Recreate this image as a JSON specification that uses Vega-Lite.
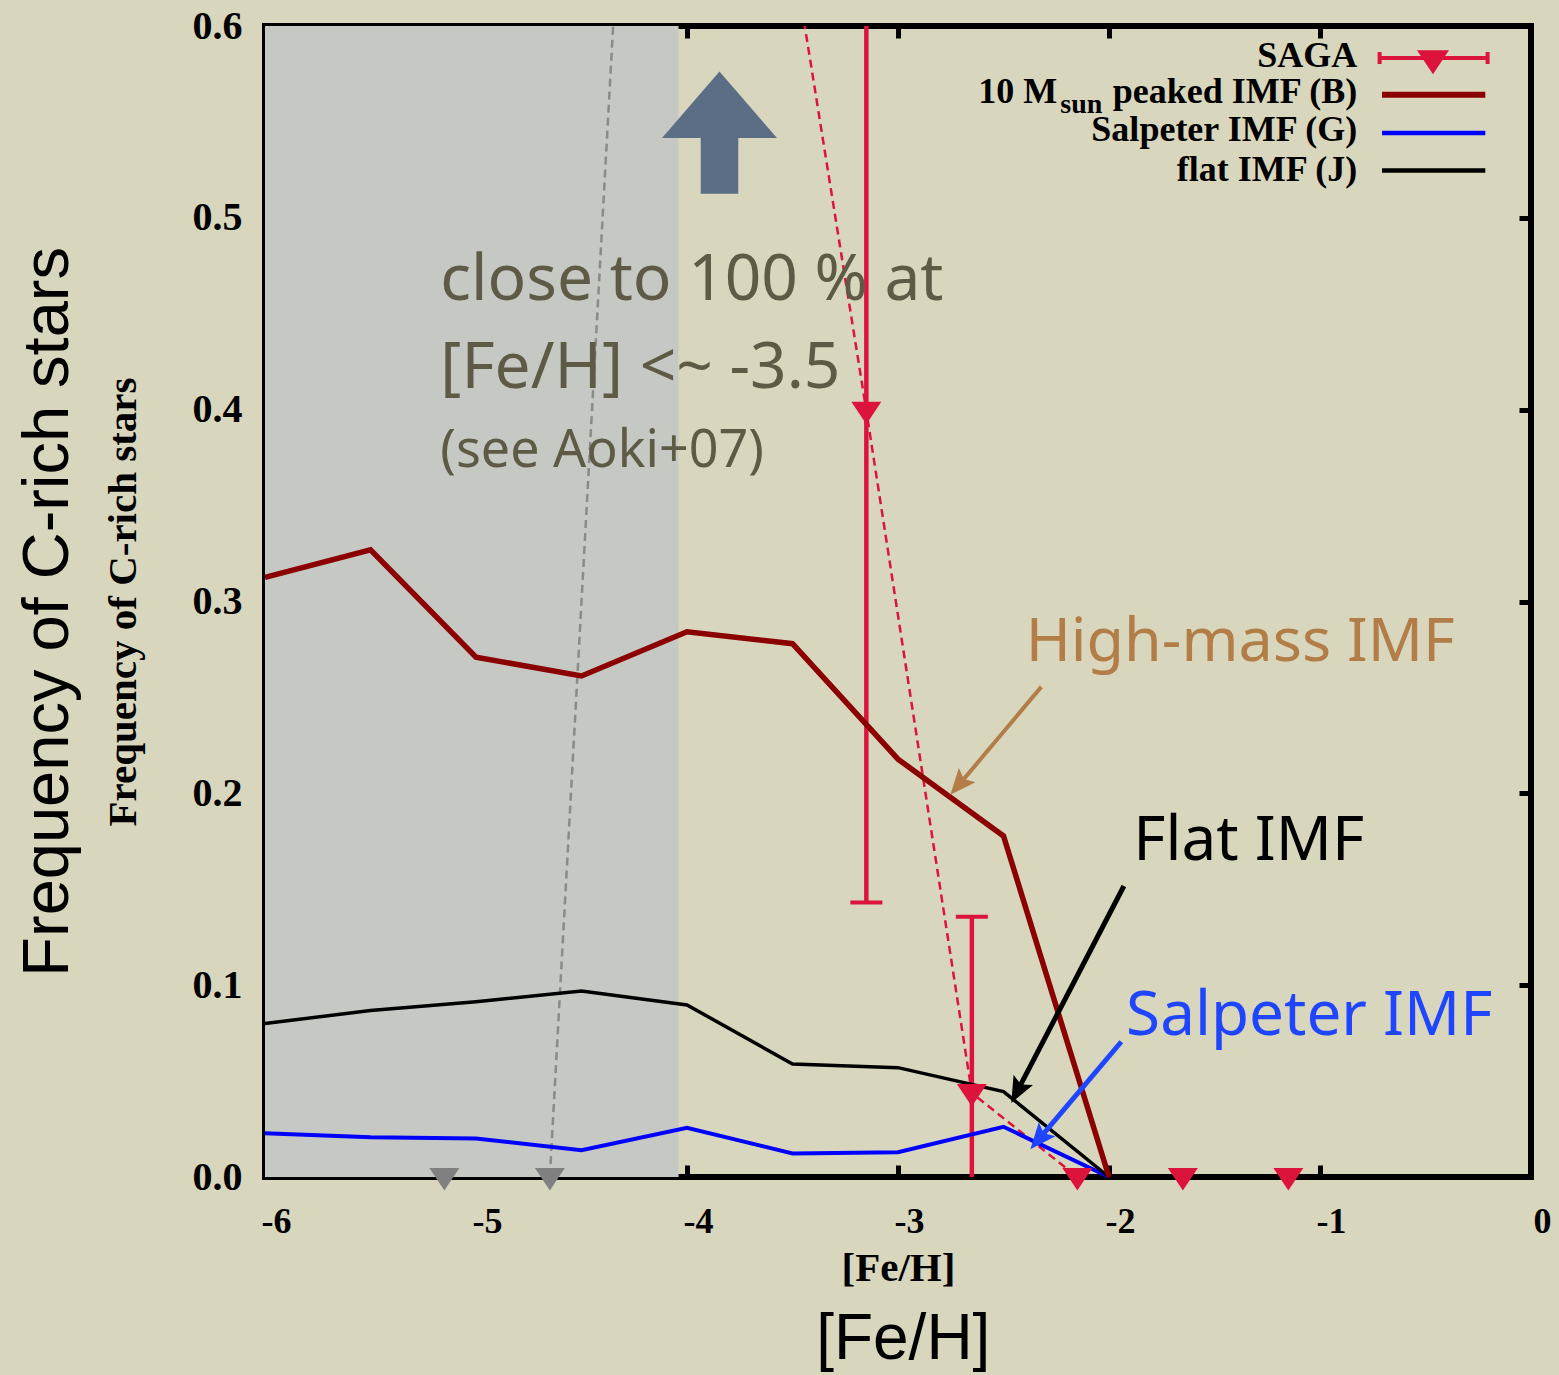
{
  "$schema": "https://vega.github.io/schema/vega-lite/v6.json",
  "width": 1266,
  "height": 1151,
  "autosize": {"type": "none"},
  "padding": {"left": 265, "top": 26, "right": 28, "bottom": 198},
  "background": "#d8d6bd",
  "config": {
    "view": {"stroke": "#000000", "strokeWidth": 6, "fill": null},
    "axis": {
      "domain": false, "grid": false, "ticks": true,
      "tickColor": "#000000", "tickWidth": 5, "tickSize": -12,
      "labelFont": "Liberation Serif", "labelFontWeight": "bold", "labelColor": "#000000",
      "titleFont": "Liberation Serif", "titleFontWeight": "bold", "titleFontSize": 41, "titleColor": "#000000"
    }
  },
  "datasets": {
    "modelB": [
      {"x": -6.0, "y": 0.3126}, {"x": -5.5, "y": 0.3269}, {"x": -5.0, "y": 0.271},
      {"x": -4.5, "y": 0.2612}, {"x": -4.0, "y": 0.2842}, {"x": -3.5, "y": 0.278},
      {"x": -3.0, "y": 0.2178}, {"x": -2.5, "y": 0.1778}, {"x": -2.0, "y": 0.0}
    ],
    "modelG": [
      {"x": -6.0, "y": 0.0228}, {"x": -5.5, "y": 0.0207}, {"x": -5.0, "y": 0.0201},
      {"x": -4.5, "y": 0.014}, {"x": -4.0, "y": 0.0257}, {"x": -3.5, "y": 0.0123},
      {"x": -3.0, "y": 0.0129}, {"x": -2.5, "y": 0.0262}, {"x": -2.0, "y": 0.0}
    ],
    "modelJ": [
      {"x": -6.0, "y": 0.08}, {"x": -5.5, "y": 0.0868}, {"x": -5.0, "y": 0.0914},
      {"x": -4.5, "y": 0.0969}, {"x": -4.0, "y": 0.0897}, {"x": -3.5, "y": 0.0589},
      {"x": -3.0, "y": 0.057}, {"x": -2.5, "y": 0.0445}, {"x": -2.0, "y": 0.0}
    ],
    "sagaRed": [
      {"x": -3.15, "y": 0.3994}, {"x": -2.65, "y": 0.0438}, {"x": -2.15, "y": 0.0},
      {"x": -1.65, "y": 0.0}, {"x": -1.15, "y": 0.0}
    ],
    "sagaGray": [
      {"x": -5.15, "y": 0.0}, {"x": -4.65, "y": 0.0}
    ]
  },
  "resolve": {"axis": {"x": "independent", "y": "independent"}},
  "layer": [
    {
      "encoding": {
        "x": {
          "field": "x", "type": "quantitative",
          "scale": {"domain": [-6, 0], "nice": false, "zero": false},
          "axis": {
            "orient": "bottom", "values": [-6, -5, -4, -3, -2, -1, 0],
            "labelExpr": "toString(datum.value)", "labelFontSize": 36,
            "labelPadding": 39, "labelOffset": 11, "labelFlush": false, "labelOverlap": false,
            "title": "[Fe/H]", "titlePadding": 9
          }
        },
        "y": {
          "field": "y", "type": "quantitative",
          "scale": {"domain": [0, 0.6], "nice": false, "zero": false},
          "axis": {
            "orient": "left", "values": [0, 0.1, 0.2, 0.3, 0.4, 0.5, 0.6],
            "format": ".1f", "labelFontSize": 40, "labelPadding": 35,
            "labelFlush": false, "labelOverlap": false,
            "title": "Frequency of C-rich stars", "titlePadding": 48
          }
        }
      },
      "layer": [
        {
          "data": {"values": [{"x": -6, "x2": -4.04, "y": 0, "y2": 0.6}]},
          "mark": {"type": "rect", "color": "#c6c9c3"},
          "encoding": {"x2": {"field": "x2"}, "y2": {"field": "y2"}}
        },
        {
          "data": {"values": [{"x": -4.65, "y": 0.0}, {"x": -4.15, "y": 1.0}]},
          "mark": {"type": "line", "color": "#8a8a8a", "strokeWidth": 2.5, "strokeDash": [8, 5], "clip": true},
          "encoding": {}
        },
        {
          "data": {"values": [{"x": -3.65, "y": 0.743}, {"x": -3.15, "y": 0.3994}, {"x": -2.65, "y": 0.0438}, {"x": -2.15, "y": 0.0}]},
          "mark": {"type": "line", "color": "#dc143c", "strokeWidth": 2.5, "strokeDash": [8, 5], "clip": true},
          "encoding": {}
        },
        {
          "data": {"values": [{"x": -3.15, "y": 0.1431, "y2": 0.65}, {"x": -2.65, "y": 0.0, "y2": 0.1357}]},
          "mark": {"type": "rule", "color": "#dc143c", "strokeWidth": 4.5, "clip": true},
          "encoding": {"y2": {"field": "y2"}}
        },
        {
          "data": {"values": [{"x": -3.15, "y": 0.1431}, {"x": -2.65, "y": 0.1357}]},
          "mark": {"type": "point", "shape": "stroke", "size": 1024, "strokeWidth": 4, "color": "#dc143c", "filled": false, "opacity": 1}
        },
        {
          "data": {"name": "modelG"},
          "mark": {"type": "line", "color": "#0000ff", "strokeWidth": 4},
          "encoding": {}
        },
        {
          "data": {"name": "modelJ"},
          "mark": {"type": "line", "color": "#000000", "strokeWidth": 3.5},
          "encoding": {}
        },
        {
          "data": {"name": "modelB"},
          "mark": {"type": "line", "color": "#8b0000", "strokeWidth": 5.5},
          "encoding": {}
        },
        {
          "data": {"name": "sagaGray"},
          "mark": {"type": "point", "shape": "M-1,-0.6L1,-0.6L0,0.9Z", "size": 900, "filled": true, "color": "#808080", "opacity": 1, "strokeWidth": 0}
        },
        {
          "data": {"name": "sagaRed"},
          "mark": {"type": "point", "shape": "M-1,-0.6L1,-0.6L0,0.9Z", "size": 900, "filled": true, "color": "#dc143c", "opacity": 1, "strokeWidth": 0}
        },
        {
          "data": {"values": [{"x": -3.846, "y": 0.5444}]},
          "mark": {"type": "point", "shape": "M0,-1L0.94,0.088L0.307,0.088L0.307,1L-0.307,1L-0.307,0.088L-0.94,0.088Z", "size": 14957, "filled": true, "color": "#5b6e86", "opacity": 1, "strokeWidth": 0}
        },
        {
          "data": {"values": [
            {"x": -5.169, "y": 0.4572, "label": "close to 100 % at"},
            {"x": -5.169, "y": 0.4114, "label": "[Fe/H] <~ -3.5"}
          ]},
          "mark": {"type": "text", "font": "Noto Sans", "fontSize": 64, "color": "#5d5b45", "align": "left", "baseline": "alphabetic"},
          "encoding": {"text": {"field": "label"}}
        },
        {
          "data": {"values": [{"x": -5.169, "y": 0.3703, "label": "(see Aoki+07)"}]},
          "mark": {"type": "text", "font": "Noto Sans", "fontSize": 52, "color": "#5d5b45", "align": "left", "baseline": "alphabetic"},
          "encoding": {"text": {"field": "label"}}
        },
        {
          "data": {"values": [{"x": -2.395, "y": 0.2692, "label": "High-mass IMF"}]},
          "mark": {"type": "text", "font": "Noto Sans", "fontSize": 61, "color": "#b27d46", "align": "left", "baseline": "alphabetic"},
          "encoding": {"text": {"field": "label"}}
        },
        {
          "data": {"values": [{"x": -1.885, "y": 0.1653, "label": "Flat IMF"}]},
          "mark": {"type": "text", "font": "Noto Sans", "fontSize": 62, "color": "#000000", "align": "left", "baseline": "alphabetic"},
          "encoding": {"text": {"field": "label"}}
        },
        {
          "data": {"values": [{"x": -1.919, "y": 0.074, "label": "Salpeter IMF"}]},
          "mark": {"type": "text", "font": "Noto Sans", "fontSize": 62, "color": "#1f45ff", "align": "left", "baseline": "alphabetic"},
          "encoding": {"text": {"field": "label"}}
        },
        {
          "data": {"values": [{"x": -2.3209, "y": 0.2555, "x2": -2.7152, "y2": 0.2039}]},
          "mark": {"type": "rule", "color": "#b27d46", "strokeWidth": 4},
          "encoding": {"x2": {"field": "x2"}, "y2": {"field": "y2"}}
        },
        {
          "data": {"values": [{"x": -2.752, "y": 0.1992}]},
          "mark": {"type": "point", "shape": "M0,0L0.42,1L0,0.8L-0.42,1Z", "size": 2704, "angle": 220.4, "filled": true, "color": "#b27d46", "opacity": 1, "strokeWidth": 0}
        },
        {
          "data": {"values": [{"x": -1.9294, "y": 0.1517, "x2": -2.437, "y2": 0.0442}]},
          "mark": {"type": "rule", "color": "#000000", "strokeWidth": 5},
          "encoding": {"x2": {"field": "x2"}, "y2": {"field": "y2"}}
        },
        {
          "data": {"values": [{"x": -2.463, "y": 0.0386}]},
          "mark": {"type": "point", "shape": "M0,0L0.42,1L0,0.8L-0.42,1Z", "size": 2704, "angle": 207.4, "filled": true, "color": "#000000", "opacity": 1, "strokeWidth": 0}
        },
        {
          "data": {"values": [{"x": -1.9417, "y": 0.0705, "x2": -2.336, "y2": 0.0192}]},
          "mark": {"type": "rule", "color": "#1f45ff", "strokeWidth": 5},
          "encoding": {"x2": {"field": "x2"}, "y2": {"field": "y2"}}
        },
        {
          "data": {"values": [{"x": -2.3727, "y": 0.0145}]},
          "mark": {"type": "point", "shape": "M0,0L0.42,1L0,0.8L-0.42,1Z", "size": 2704, "angle": 220.2, "filled": true, "color": "#1f45ff", "opacity": 1, "strokeWidth": 0}
        },
        {
          "data": {"values": [{"x": -6.932, "y": 0.2946, "label": "Frequency of C-rich stars"}]},
          "mark": {"type": "text", "font": "Liberation Sans", "fontSize": 65, "color": "#000000", "align": "center", "baseline": "alphabetic", "angle": 270},
          "encoding": {"text": {"field": "label"}}
        },
        {
          "data": {"values": [{"x": -2.975, "y": -0.0949, "label": "[Fe/H]"}]},
          "mark": {"type": "text", "font": "Liberation Sans", "fontSize": 64, "color": "#000000", "align": "center", "baseline": "alphabetic"},
          "encoding": {"text": {"field": "label"}}
        },
        {
          "data": {"values": [
            {"x": -0.8232, "y": 0.5786, "label": "SAGA"},
            {"x": -0.8232, "y": 0.5597, "label": "peaked IMF (B)"},
            {"x": -0.8232, "y": 0.5401, "label": "Salpeter IMF (G)"},
            {"x": -0.8232, "y": 0.5193, "label": "flat IMF (J)"},
            {"x": -2.245, "y": 0.5597, "label": "10 M"}
          ]},
          "mark": {"type": "text", "font": "Liberation Serif", "fontWeight": "bold", "fontSize": 36, "color": "#000000", "align": "right", "baseline": "alphabetic"},
          "encoding": {"text": {"field": "label"}}
        },
        {
          "data": {"values": [{"x": -2.0317, "y": 0.5548, "label": "sun"}]},
          "mark": {"type": "text", "font": "Liberation Serif", "fontWeight": "bold", "fontSize": 28, "color": "#000000", "align": "right", "baseline": "alphabetic"},
          "encoding": {"text": {"field": "label"}}
        },
        {
          "data": {"values": [{"x": -0.7175, "x2": -0.2057, "y": 0.5833}]},
          "mark": {"type": "rule", "color": "#dc143c", "strokeWidth": 4},
          "encoding": {"x2": {"field": "x2"}}
        },
        {
          "data": {"values": [{"x": -0.7175, "y": 0.5833}, {"x": -0.2057, "y": 0.5833}]},
          "mark": {"type": "point", "shape": "stroke", "angle": 90, "size": 144, "strokeWidth": 4, "color": "#dc143c", "filled": false, "opacity": 1}
        },
        {
          "data": {"values": [{"x": -0.4645, "y": 0.5824}]},
          "mark": {"type": "point", "shape": "M-1,-0.6L1,-0.6L0,0.9Z", "size": 1024, "filled": true, "color": "#dc143c", "opacity": 1, "strokeWidth": 0}
        },
        {
          "data": {"values": [{"x": -0.706, "x2": -0.2166, "y": 0.5641}]},
          "mark": {"type": "rule", "color": "#8b0000", "strokeWidth": 6},
          "encoding": {"x2": {"field": "x2"}}
        },
        {
          "data": {"values": [{"x": -0.706, "x2": -0.2166, "y": 0.5442}]},
          "mark": {"type": "rule", "color": "#0000ff", "strokeWidth": 4.5},
          "encoding": {"x2": {"field": "x2"}}
        },
        {
          "data": {"values": [{"x": -0.706, "x2": -0.2166, "y": 0.5247}]},
          "mark": {"type": "rule", "color": "#000000", "strokeWidth": 4.5},
          "encoding": {"x2": {"field": "x2"}}
        }
      ]
    },
    {
      "data": {"values": [{"x": -6, "y": 0}]},
      "mark": {"type": "point", "opacity": 0},
      "encoding": {
        "x": {
          "field": "x", "type": "quantitative",
          "scale": {"domain": [-6, 0], "nice": false, "zero": false},
          "axis": {"orient": "top", "values": [-6, -5, -4, -3, -2, -1, 0], "labels": false, "title": null}
        },
        "y": {
          "field": "y", "type": "quantitative",
          "scale": {"domain": [0, 0.6], "nice": false, "zero": false},
          "axis": {"orient": "right", "values": [0, 0.1, 0.2, 0.3, 0.4, 0.5, 0.6], "labels": false, "title": null}
        }
      }
    }
  ]
}
